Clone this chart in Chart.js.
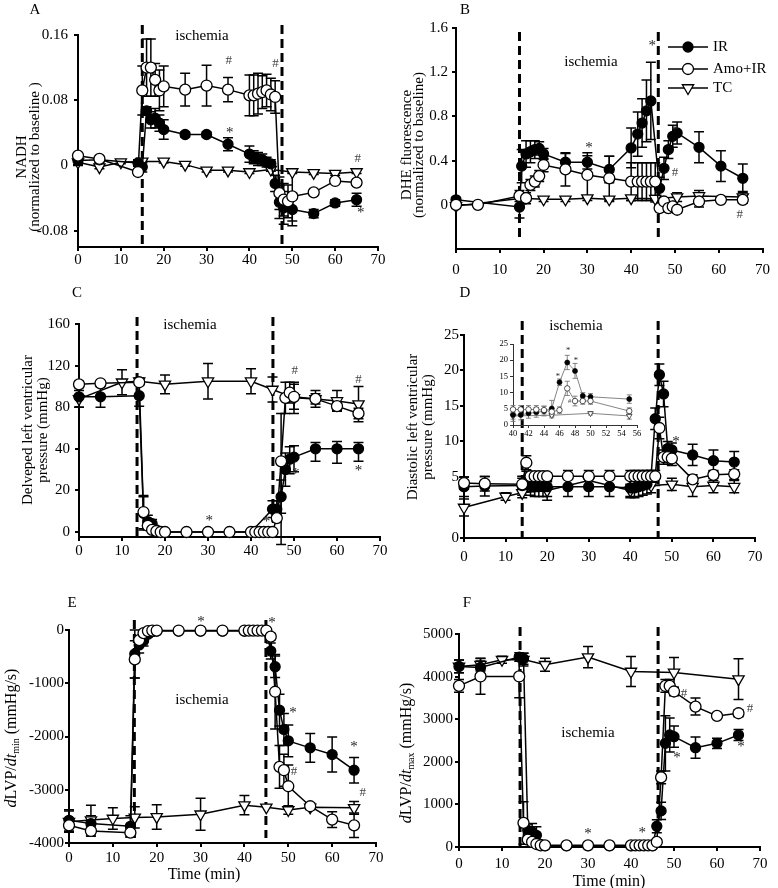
<!DOCTYPE html>
<html>
<head>
<meta charset="utf-8">
<script src="https://cdn.jsdelivr.net/npm/chart.js@4/dist/chart.umd.min.js"></script>
<style>
  body { margin: 0; background: #fff; }
  canvas { position: absolute; }
</style>
</head>
<body>
<canvas id="pA" width="389" height="280" style="left:0;top:0"></canvas>
<canvas id="pB" width="389" height="280" style="left:389px;top:0"></canvas>
<canvas id="pC" width="389" height="290" style="left:0;top:280px"></canvas>
<canvas id="pD" width="389" height="290" style="left:389px;top:280px"></canvas>
<canvas id="pIn" width="150" height="105" style="left:495px;top:335px"></canvas>
<canvas id="pE" width="389" height="318" style="left:0;top:570px"></canvas>
<canvas id="pF" width="389" height="318" style="left:389px;top:570px"></canvas>
<script>
// ---- data (time in min, mean and error per group) ----
// A: NADH
const aIRx = [0,5,14,15,16,17,18,19,20,25,30,35,40,41,42,43,44,45,46,47,48,50,55,60,65];
const aIR  = [0.006,0.007,0.003,-0.002,0.067,0.056,0.058,0.052,0.044,0.038,0.038,0.026,0.014,0.010,0.008,0.007,0.004,0.002,-0.022,-0.045,-0.052,-0.054,-0.059,-0.046,-0.042];
const aIRe = [0.006,0.004,0.004,0.006,0.005,0.010,0.012,0.010,0.012,0.003,0.003,0.008,0.010,0.008,0.008,0.007,0.006,0.005,0.010,0.020,0.020,0.020,0.005,0.004,0.008];
const aAmx = [0,5,14,15,16,17,18,19,20,25,30,35,40,41,42,43,44,45,46,47,48,49,50,55,60,65];
const aAm  = [0.012,0.008,-0.008,0.092,0.120,0.120,0.105,0.092,0.097,0.093,0.098,0.093,0.086,0.086,0.088,0.090,0.092,0.087,0.084,-0.034,-0.042,-0.044,-0.038,-0.033,-0.019,-0.021];
const aAme = [0.003,0.003,0.004,0.030,0.035,0.035,0.020,0.025,0.025,0.020,0.025,0.015,0.025,0.025,0.025,0.020,0.020,0.020,0.020,0.020,0.020,0.020,0.030,0.003,0.003,0.003];
const aTCx = [0,5,10,15,20,25,30,35,40,45,50,55,60,65];
const aTC  = [0.004,-0.002,0.004,0.005,0.005,0.001,-0.006,-0.006,-0.008,-0.005,-0.008,-0.009,-0.010,-0.008];
const aTCe = [0.003,0.002,0.002,0.002,0.002,0.002,0.002,0.002,0.002,0.002,0.002,0.002,0.002,0.002];

// B: DHE fluorescence
const bIRx = [0,14.5,15,16,17,18,19,20,25,30,35,40,41.5,42.5,43.5,44.5,46.5,47.5,48.5,49.5,50.5,55.5,60.5,65.5];
const bIR  = [0.045,-0.02,0.35,0.46,0.48,0.50,0.51,0.46,0.385,0.385,0.32,0.515,0.64,0.74,0.85,0.94,0.15,0.33,0.50,0.62,0.65,0.52,0.35,0.24];
const bIRe = [0.02,0.10,0.15,0.12,0.10,0.08,0.06,0.05,0.08,0.06,0.12,0.18,0.20,0.22,0.28,0.35,0.10,0.10,0.08,0.10,0.10,0.14,0.14,0.13];
const bAmx = [0,5,14.5,16,17,18,19,20,25,30,35,40,41.5,42.5,43.5,44.5,45.5,46.5,47.5,48.5,49.5,50.5,55.5,60.5,65.5];
const bAm  = [0,0,0.08,0.06,0.18,0.21,0.26,0.36,0.32,0.27,0.24,0.21,0.21,0.21,0.21,0.21,0.21,-0.03,0.03,-0.03,-0.015,-0.045,0.03,0.045,0.045];
const bAme = [0.01,0.01,0.05,0.05,0.05,0.05,0.05,0.06,0.15,0.20,0.20,0.17,0.17,0.17,0.17,0.17,0.17,0.02,0.03,0.03,0.03,0.03,0.05,0.02,0.03];
const bTCx = [0,15,20,25,30,35,40,45.5,50.5,55.5,65.5];
const bTC  = [-0.01,0.06,0.05,0.05,0.06,0.05,0.06,0.055,0.07,0.08,0.07];
const bTCe = [0.02,0.05,0.02,0.02,0.02,0.02,0.02,0.03,0.04,0.05,0.05];

// C: developed LV pressure
const cIRx = [0,5,14,15,16,17,18,20,25,30,35,40,45,46,47,48,49,50,55,60,65];
const cIR  = [90,90,91,9,5,4,1,0,0,0,0,0,11,11,17,30,35,36,40,40,40];
const cIRe = [10,10,10,8,3,2,1,0,0,0,0,0,4,4,8,8,7,7,6,7,6];
const cAmx = [0,5,14,15,16,17,18,19,20,25,30,35,40,41,42,43,44,45,46,47,48,49,50,55,60,65];
const cAm  = [102,103,104,9.6,3,1,0.4,0,0,0,0,0,0,0,0,0,0,0,6.7,34,89,94,90,88,81,74];
const cAme = [3,2,2,8,2,1,0,0,0,0,0,0,0,0,0,0,0,0,2,40,15,10,12,5,4,5];
const cTCx = [0,10,14,20,30,40,45,50,55,60,65];
const cTC  = [88,104,105,102,105,105,97,89,88,86,83];
const cTCe = [8,12,3,9,17,12,12,15,8,10,17];

// D: diastolic LV pressure
const dX   = [0,5,14,15,16,17,18,19,20,25,30,35,40,41,42,43,44,45,46,47,48,49,50,55,60,65];
const dIR  = [4.2,4.25,4.3,4.8,4.3,4.2,4.2,4.2,4.2,4.2,4.2,4.2,4.1,4.1,4.2,4.3,4.4,5.1,13.2,19.4,16.7,9.0,8.8,8.1,7.3,7.1];
const dIRe = [0.8,0.8,0.8,1,0.8,0.8,0.8,0.8,0.8,0.8,0.8,0.8,0.8,0.8,0.8,0.8,0.8,0.8,1.5,1.5,1.8,1,1,1.5,1.5,1.5];
const dAm  = [4.5,4.45,4.4,7.0,5.1,5.1,5.1,5.1,5.1,5.1,5.1,5.1,5.1,5.1,5.1,5.1,5.1,5.1,5.1,11.9,7.8,7.8,7.6,4.8,5.3,5.4];
const dAme = [0.5,0.6,0.5,1,0.5,0.5,0.5,0.5,0.5,0.8,0.8,0.8,0.8,0.8,0.8,0.8,0.8,0.8,0.8,1.5,1,1,1,0.5,0.6,0.6];
const dTCx = [0,10,14,20,30,40,45,50,55,60,65];
const dTC  = [2.5,3.4,3.7,3.9,4.7,3.9,4.3,4.4,4.2,4.3,4.2];
const dTCe = [0.7,0.3,0.4,0.8,0.6,0.5,0.6,0.5,0.8,0.6,0.5];

// D inset: 40-56 min
const iX   = [40,41,42,43,44,45,46,47,48,49,50,55];
const iIR  = [3.1,3.1,3.6,3.9,4.3,5.1,13.2,19.3,16.7,9.0,8.7,8.0];
const iIRe = [2,1.5,1.5,1.5,1.5,2.5,1,2.2,2.3,1,1,1.3];
const iAm  = [4.8,4.8,4.8,4.8,4.6,4.1,4.6,11.3,7.4,7.4,7.4,4.3];
const iAme = [1.2,1.2,1.2,1.2,1.2,1,1,2.2,1.5,1,1,1];
const iTCx = [40,45,50,55];
const iTC  = [2.8,3.0,3.6,2.8];
const iTCe = [1,0.8,0.5,1];

// E: dLVP/dt min
const eIRx = [0,5,14,15,16,17,18,19,20,25,30,35,40,45,46,47,48,49,50,55,60,65];
const eIR  = [-3574,-3636,-3686,-450,-280,-200,-80,-30,-20,-20,-20,-20,-20,-20,-395,-690,-1505,-1868,-2082,-2213,-2339,-2633];
const eIRe = [200,150,200,450,150,100,50,0,0,0,0,0,0,0,150,200,300,300,300,270,330,240];
const eAmx = [0,5,14,15,16,17,18,19,20,25,30,35,40,41,42,43,44,45,46,47,48,49,50,55,60,65];
const eAm  = [-3668,-3774,-3806,-552,-190,-60,-20,-10,-10,-10,-10,-10,-10,-10,-10,-10,-10,-10,-125,-1160,-2570,-2633,-2934,-3310,-3561,-3668];
const eAme = [120,100,80,350,60,30,0,0,0,0,0,0,0,0,0,0,0,0,60,700,400,300,400,60,150,230];
const eTCx = [0,5,10,15,20,30,40,45,50,55,65];
const eTC  = [-3600,-3570,-3540,-3520,-3510,-3460,-3290,-3330,-3380,-3330,-3340];
const eTCe = [200,280,200,200,230,300,180,0,80,0,120];

// F: dLVP/dt max
const fIRx = [0,5,14,15,16,17,18,19,20,25,30,35,40,45,46,47,48,49,50,55,60,65];
const fIR  = [4238,4215,4458,4420,392,353,275,60,30,30,30,30,30,30,487,848,2433,2630,2590,2331,2433,2630];
const fIRe = [150,150,100,130,150,200,200,0,0,0,0,0,0,0,150,200,650,400,250,250,120,130];
const fAmx = [0,5,14,15,16,17,18,19,20,25,30,35,40,41,42,43,44,45,46,47,48,49,50,55,60,65];
const fAm  = [3783,4003,4003,565,173,118,70,40,39,39,39,39,39,39,39,39,39,39,118,1633,3780,3780,3650,3296,3077,3140];
const fAme = [150,420,500,500,100,50,0,0,0,0,0,0,0,0,0,0,0,0,50,150,150,150,100,200,50,80];
const fTCx = [0,5,10,15,20,30,40,50,65];
const fTC  = [4238,4280,4395,4400,4278,4458,4120,4097,3940];
const fTCe = [150,150,80,150,150,250,350,350,480];

// ---- drawing ----
const FONT = '"Liberation Serif", "DejaVu Serif", serif';
Chart.defaults.font.family = FONT;
Chart.defaults.color = '#000';
Chart.defaults.animation = false;

// y axis with a changed scale above a break value (panels C and D)
class SegScale extends Chart.LinearScale {
  toU(v) {
    const s = this.segs;
    if (!s) return v;
    let i = 1;
    while (i < s.length - 1 && v > s[i][0]) i++;
    const a = s[i - 1], b = s[i];
    return a[1] + (v - a[0]) * (b[1] - a[1]) / (b[0] - a[0]);
  }
  getPixelForValue(v) { return super.getPixelForValue(this.toU(v)); }
}
SegScale.id = 'seg';
SegScale.defaults = Chart.LinearScale.defaults;
Chart.register(SegScale);

const styles = {
  IR:  { pointStyle: 'circle', r: 5, fill: '#000', rot: 0 },
  Amo: { pointStyle: 'circle', r: 5.5, fill: '#fff', rot: 0 },
  TC:  { pointStyle: 'triangle', r: 6.5, fill: '#fff', rot: 180 }
};

function ds(name, xs, ys, es, o) {
  o = Object.assign({ k: 1, line: '#000', lw: 1.5, errW: 1.5, cap: 5 }, o || {});
  const s = styles[name];
  return {
    label: name,
    data: xs.map((x, i) => ({ x: x, y: ys[i] })),
    err: es, cap: o.cap, errW: o.errW, errColor: o.line,
    borderColor: o.line, borderWidth: o.lw, tension: 0, clip: false,
    pointStyle: s.pointStyle, pointRotation: s.rot, pointRadius: s.r * o.k,
    pointBackgroundColor: s.fill, pointBorderColor: '#000', pointBorderWidth: 1.3 * o.k
  };
}

function yTitle(ctx, lines, cy, size) {
  ctx.save();
  ctx.font = size + 'px ' + FONT;
  ctx.fillStyle = '#000'; ctx.textAlign = 'center'; ctx.textBaseline = 'middle';
  lines.forEach(l => {
    ctx.save(); ctx.translate(l[1], cy); ctx.rotate(-Math.PI / 2);
    ctx.fillText(l[0], 0, 0); ctx.restore();
  });
  ctx.restore();
}

function richTitle(ctx, segs, cx, cy, size) {
  const f = s => (s.it ? 'italic ' : '') + (s.sub ? size * 0.62 : size) + 'px ' + FONT;
  ctx.save();
  ctx.translate(cx, cy); ctx.rotate(-Math.PI / 2);
  ctx.fillStyle = '#000'; ctx.textAlign = 'left'; ctx.textBaseline = 'middle';
  let w = 0;
  segs.forEach(s => { ctx.font = f(s); w += ctx.measureText(s.t).width; });
  let x = -w / 2;
  segs.forEach(s => { ctx.font = f(s); ctx.fillText(s.t, x, s.sub ? 4 : 0); x += ctx.measureText(s.t).width; });
  ctx.restore();
}

function decor(p) {
  return {
    id: 'decor' + p.id,
    beforeDatasetsDraw(chart) {
      const ctx = chart.ctx, xs = chart.scales.x, ys = chart.scales.y;
      ctx.save();
      if (p.dashX) {
        ctx.strokeStyle = '#000'; ctx.lineWidth = 3; ctx.setLineDash([9, 5]);
        p.dashX.forEach(v => {
          const x = xs.getPixelForValue(v);
          ctx.beginPath(); ctx.moveTo(x, p.dashY[0]); ctx.lineTo(x, p.dashY[1]); ctx.stroke();
        });
        ctx.setLineDash([]);
      }
      chart.data.datasets.forEach(d => {
        ctx.strokeStyle = d.errColor; ctx.lineWidth = d.errW;
        d.data.forEach((pt, i) => {
          const e = d.err[i];
          if (!e) return;
          const x = xs.getPixelForValue(pt.x), t = ys.getPixelForValue(pt.y + e), b = ys.getPixelForValue(pt.y - e), c = d.cap;
          ctx.beginPath();
          ctx.moveTo(x, t); ctx.lineTo(x, b);
          ctx.moveTo(x - c, t); ctx.lineTo(x + c, t);
          ctx.moveTo(x - c, b); ctx.lineTo(x + c, b);
          ctx.stroke();
        });
      });
      ctx.restore();
    },
    afterDraw(chart) {
      const ctx = chart.ctx, xs = chart.scales.x, ys = chart.scales.y;
      ctx.save();
      ctx.textAlign = 'center'; ctx.textBaseline = 'middle';
      (p.marks || []).forEach(m => {
        const star = m[0] === '*';
        ctx.font = (star ? p.fs : p.fs - 2) + 'px ' + FONT;
        ctx.fillStyle = star ? '#222' : '#444';
        ctx.fillText(m[0], xs.getPixelForValue(m[1]), ys.getPixelForValue(m[2]) + (star ? p.fs * 0.25 : 0));
      });
      ctx.fillStyle = '#000';
      ctx.font = '15px ' + FONT;
      if (p.letter) ctx.fillText(p.letter[0], p.letter[1], p.letter[2]);
      if (p.isch) ctx.fillText('ischemia', p.isch[0], p.isch[1]);
      if (p.xTitle) { ctx.font = '16px ' + FONT; ctx.fillText('Time (min)', p.xTitle[0], p.xTitle[1]); }
      if (p.legend) {
        p.legend.forEach(l => {
          const s = styles[l[1]], y = l[2];
          ctx.strokeStyle = '#000'; ctx.lineWidth = 1.5;
          ctx.beginPath(); ctx.moveTo(p.legX[0], y); ctx.lineTo(p.legX[1], y); ctx.stroke();
          ctx.fillStyle = s.fill; ctx.lineWidth = 1.3;
          Chart.helpers.drawPoint(ctx, { pointStyle: s.pointStyle, radius: s.r, rotation: s.rot, borderWidth: 1.3 }, (p.legX[0] + p.legX[1]) / 2, y);
          ctx.fillStyle = '#000'; ctx.textAlign = 'left'; ctx.font = '15px ' + FONT;
          ctx.fillText(l[0], p.legX[1] + 5, y);
          ctx.textAlign = 'center';
        });
      }
      ctx.restore();
      if (p.title) yTitle(ctx, p.title, p.titleY, 15);
      if (p.rich) richTitle(ctx, p.rich, p.richXY[0], p.richXY[1], 16);
    }
  };
}

function panel(p) {
  const cv = document.getElementById(p.id);
  const W = cv.width, H = cv.height, a = p.area;
  const axisCol = p.axisCol || '#000';
  const grid = { drawOnChartArea: false, tickLength: p.tl, color: axisCol, lineWidth: p.bw };
  const border = { display: true, color: axisCol, width: p.bw };
  return new Chart(cv, {
    type: 'line',
    data: { datasets: p.sets },
    options: {
      responsive: false, animation: false, events: [],
      layout: { padding: { top: a[1], right: W - a[2], left: 0, bottom: 0 } },
      plugins: { legend: { display: false }, tooltip: { enabled: false } },
      scales: {
        x: {
          type: 'linear', min: p.xMin, max: p.xMax, bounds: 'data',
          ticks: { stepSize: p.xStep, padding: p.xPad, autoSkip: false, maxRotation: 0, font: { size: p.fs }, callback: v => String(v) },
          grid: grid, border: border,
          afterFit: s => { s.height = H - a[3]; }
        },
        y: {
          type: p.segs ? 'seg' : 'linear', min: p.yMin, max: p.yMax, bounds: 'data',
          afterBuildTicks: s => { s.segs = p.segs; s.ticks = p.yTicks.map(v => ({ value: v })); },
          ticks: { padding: p.yPad, autoSkip: false, font: { size: p.fs }, callback: v => String(v) },
          grid: grid, border: border,
          afterFit: s => { s.width = a[0]; }
        }
      }
    },
    plugins: [decor(p)]
  });
}

const legendRows = [['IR', 'IR', 47], ['Amo+IR', 'Amo', 69], ['TC', 'TC', 88]];

panel({
  id: 'pA', area: [78, 35, 378, 247], fs: 15, tl: 4, bw: 2, xPad: 0, yPad: 6,
  xMin: 0, xMax: 70, xStep: 10, yMin: -0.1, yMax: 0.16, yTicks: [-0.08, 0, 0.08, 0.16],
  sets: [ds('Amo', aAmx, aAm, aAme), ds('IR', aIRx, aIR, aIRe), ds('TC', aTCx, aTC, aTCe)],
  dashX: [15, 47.6], dashY: [25, 245],
  marks: [['#', 35.2, 0.129], ['#', 46.1, 0.125], ['*', 35.4, 0.044], ['#', 65.3, 0.009], ['*', 66, -0.054]],
  letter: ['A', 35, 10], isch: [202, 36],
  title: [['NADH', 22], ['(normalized to baseline )', 35]], titleY: 157
});

panel({
  id: 'pB', area: [67, 28, 379, 249], fs: 15, tl: 4, bw: 2, xPad: 8, yPad: 4,
  xMin: 0, xMax: 70, xStep: 10, yMin: -0.4, yMax: 1.6, yTicks: [0, 0.4, 0.8, 1.2, 1.6],
  sets: [ds('Amo', bAmx, bAm, bAme), ds('IR', bIRx, bIR, bIRe), ds('TC', bTCx, bTC, bTCe)],
  dashX: [14.5, 46.2], dashY: [32, 240],
  marks: [['*', 44.8, 1.47], ['*', 30.4, 0.55], ['*', 50, 0.7], ['#', 50, 0.29], ['#', 64.8, -0.09]],
  letter: ['B', 76, 10], isch: [202, 62],
  title: [['DHE fluorescence', 18], ['(normalized to baseline)', 30]], titleY: 145,
  legend: legendRows, legX: [279, 319]
});

panel({
  id: 'pC', area: [79, 44, 380, 257], fs: 15, tl: 4, bw: 2, xPad: 1, yPad: 5,
  xMin: 0, xMax: 70, xStep: 10, yMin: -2.4, yMax: 100, segs: [[0, 0], [40, 40], [160, 100]],
  yTicks: [0, 20, 40, 80, 120, 160],
  sets: [ds('Amo', cAmx, cAm, cAme), ds('IR', cIRx, cIR, cIRe), ds('TC', cTCx, cTC, cTCe)],
  dashX: [13.5, 45.1], dashY: [37, 257],
  marks: [['*', 30.3, 6.9], ['*', 43.6, 6.4], ['#', 50.2, 115], ['#', 65, 107], ['*', 50.4, 29.6], ['*', 65, 31.2]],
  letter: ['C', 77, 13], isch: [190, 45],
  title: [['Delveped left ventricular', 28], ['pressure (mmHg)', 43]], titleY: 150
});

panel({
  id: 'pD', area: [75, 55, 366, 258], fs: 15, tl: 4, bw: 2, xPad: 6, yPad: 1,
  xMin: 0, xMax: 70, xStep: 10, yMin: 0, yMax: 28.6, segs: [[0, 0], [5, 8.6], [25, 28.6]],
  yTicks: [0, 5, 10, 15, 20, 25],
  sets: [ds('Amo', dX, dAm, dAme), ds('IR', dX, dIR, dIRe), ds('TC', dTCx, dTC, dTCe)],
  dashX: [14, 46.7], dashY: [41, 257],
  marks: [['*', 51, 10.5]],
  letter: ['D', 76, 13], isch: [187, 46],
  title: [['Diastolic left ventricular', 24], ['pressure (mmHg)', 39]], titleY: 147
});

const inO = { k: 0.5, line: '#777', lw: 0.9, errW: 0.9, cap: 2.5 };
panel({
  id: 'pIn', area: [18, 9, 142, 90], fs: 8.5, tl: 3, bw: 1, xPad: 1, yPad: 2, axisCol: '#333',
  xMin: 40, xMax: 56, xStep: 2, yMin: 0, yMax: 25, yTicks: [0, 5, 10, 15, 20, 25],
  sets: [ds('Amo', iX, iAm, iAme, inO), ds('IR', iX, iIR, iIRe, inO), ds('TC', iTCx, iTC, iTCe, inO)],
  marks: [['*', 45.8, 15.5], ['*', 47.1, 23.5], ['*', 48.1, 20.5], ['#', 47.3, 7.2]]
});

panel({
  id: 'pE', area: [69, 60, 376, 273], fs: 15, tl: 4, bw: 2, xPad: 2, yPad: 1,
  xMin: 0, xMax: 70, xStep: 10, yMin: -4000, yMax: 0, yTicks: [-4000, -3000, -2000, -1000, 0],
  sets: [ds('Amo', eAmx, eAm, eAme), ds('IR', eIRx, eIR, eIRe), ds('TC', eTCx, eTC, eTCe)],
  dashX: [14.9, 44.9], dashY: [50, 268],
  marks: [['*', 30.1, 225], ['*', 46.3, 207], ['*', 51.1, -1490], ['*', 65, -2120], ['#', 51.3, -2660], ['#', 67, -3060]],
  letter: ['E', 72, 33], isch: [202, 130], xTitle: [204, 305],
  rich: [{ t: 'd', it: true }, { t: 'LVP/' }, { t: 'dt', it: true }, { t: 'min', sub: true }, { t: ' (mmHg/s)' }],
  richXY: [12, 168]
});

panel({
  id: 'pF', area: [70, 64, 371, 277], fs: 15, tl: 4, bw: 2, xPad: 4, yPad: 2,
  xMin: 0, xMax: 70, xStep: 10, yMin: 0, yMax: 5000, yTicks: [0, 1000, 2000, 3000, 4000, 5000],
  sets: [ds('Amo', fAmx, fAm, fAme), ds('IR', fIRx, fIR, fIRe), ds('TC', fTCx, fTC, fTCe)],
  dashX: [14.2, 46.3], dashY: [57, 277],
  marks: [['#', 52.3, 3590], ['#', 67.7, 3240], ['*', 50.7, 2183], ['*', 65.6, 2440], ['*', 30, 400], ['*', 42.6, 420]],
  letter: ['F', 78, 33], isch: [199, 163], xTitle: [220, 312],
  rich: [{ t: 'd', it: true }, { t: 'LVP/' }, { t: 'dt', it: true }, { t: 'max', sub: true }, { t: ' (mmHg/s)' }],
  richXY: [18, 183]
});
</script>
</body>
</html>
